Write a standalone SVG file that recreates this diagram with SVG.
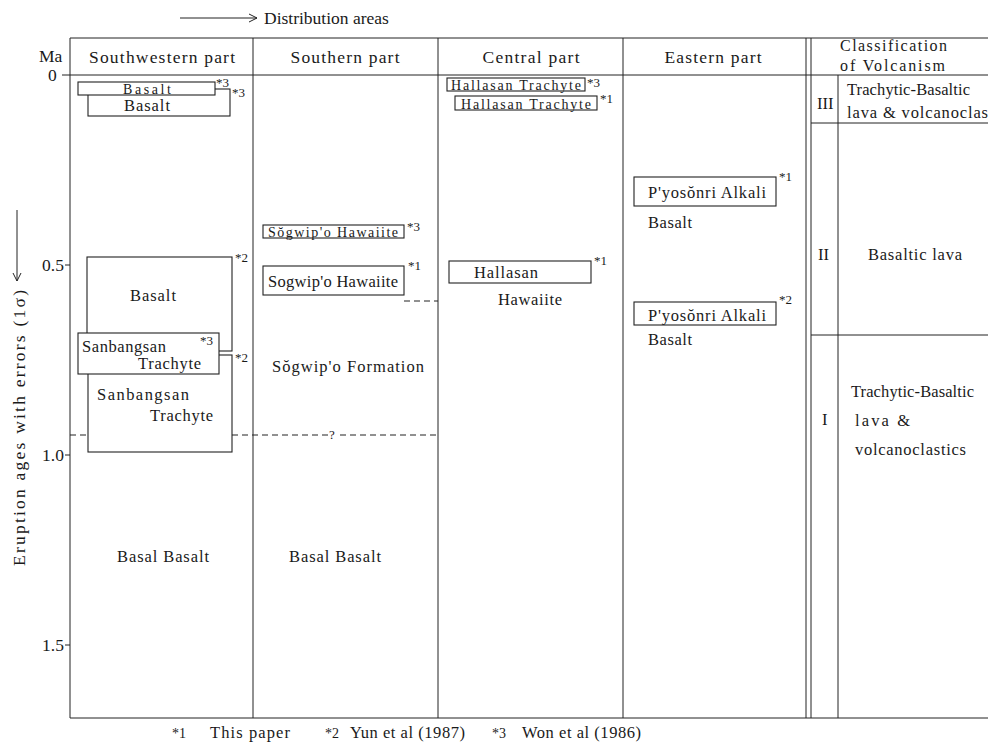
<svg xmlns="http://www.w3.org/2000/svg" width="988" height="742" viewBox="0 0 988 742" font-family="'Liberation Serif', 'Times New Roman', serif">
<style>
text{font-family:"Liberation Serif","Times New Roman",serif;fill:#1a1a1a;font-size:16.5px}
.h{font-size:17.5px}
.c{font-size:16px}
.s{font-size:14px}
.m{font-size:13px}
.ln{stroke:#222;stroke-width:1;fill:none}
.bx{stroke:#222;stroke-width:1.1;fill:#fff}
.dash{stroke:#222;stroke-width:1;fill:none;stroke-dasharray:6,4}
.mid{text-anchor:middle}
</style>
<defs>
<marker id="arr" markerWidth="10" markerHeight="10" refX="9" refY="5" orient="auto" markerUnits="userSpaceOnUse">
<path d="M1,1 L9,5 L1,9" fill="none" stroke="#222" stroke-width="1"/>
</marker>
</defs>
<rect width="988" height="742" fill="#fff"/>

<g id="title">
<line x1="180" y1="18" x2="257" y2="18" class="ln" marker-end="url(#arr)"/>
<text x="264" y="24" class="h">Distribution areas</text>
</g>

<g id="frame">
<line x1="70" y1="38" x2="988" y2="38" class="ln"/>
<line x1="62" y1="75" x2="988" y2="75" class="ln"/>
<line x1="70" y1="718" x2="988" y2="718" class="ln"/>
<line x1="70" y1="38" x2="70" y2="718" class="ln"/>
<line x1="253" y1="38" x2="253" y2="718" class="ln"/>
<line x1="438" y1="38" x2="438" y2="718" class="ln"/>
<line x1="623" y1="38" x2="623" y2="718" class="ln"/>
<line x1="806" y1="38" x2="806" y2="718" class="ln"/>
<line x1="811" y1="38" x2="811" y2="718" class="ln"/>
<line x1="838" y1="75" x2="838" y2="718" class="ln"/>
<line x1="811" y1="123" x2="988" y2="123" class="ln"/>
<line x1="811" y1="335" x2="988" y2="335" class="ln"/>
<line x1="65" y1="265" x2="70" y2="265" class="ln"/>
<line x1="65" y1="455" x2="70" y2="455" class="ln"/>
<line x1="65" y1="645" x2="70" y2="645" class="ln"/>
</g>

<g id="axis">
<text x="39" y="62" class="h">Ma</text>
<text x="48" y="81" class="h">0</text>
<text x="42" y="271" class="h">0.5</text>
<text x="42" y="461" class="h">1.0</text>
<text x="42" y="651" class="h">1.5</text>
<text transform="translate(25,566) rotate(-90)" class="h" textLength="276" lengthAdjust="spacing">Eruption ages with errors (1σ)</text>
<line x1="17" y1="210" x2="17" y2="281" class="ln" marker-end="url(#arr)"/>
</g>

<g id="headers">
<text x="162" y="63" class="h mid" textLength="146" lengthAdjust="spacing">Southwestern part</text>
<text x="345" y="63" class="h mid" textLength="109" lengthAdjust="spacing">Southern part</text>
<text x="531" y="63" class="h mid" textLength="97" lengthAdjust="spacing">Central part</text>
<text x="713" y="63" class="h mid" textLength="97" lengthAdjust="spacing">Eastern part</text>
<text x="840" y="51" class="c" textLength="107" lengthAdjust="spacing">Classification</text>
<text x="840" y="71" class="c" textLength="105" lengthAdjust="spacing">of Volcanism</text>
</g>

<g id="connectors">
<line x1="70" y1="435" x2="88" y2="435" class="dash"/>
<line x1="232" y1="435" x2="328" y2="435" class="dash"/>
<line x1="340" y1="435" x2="438" y2="435" class="dash"/>
<text x="329" y="439" class="m">?</text>
<line x1="404" y1="301" x2="438" y2="301" class="dash"/>
</g>

<g id="sw-basal">
<text x="163" y="562" class="mid" textLength="92" lengthAdjust="spacing">Basal Basalt</text>
</g>

<g id="sw-basalt-2">
<rect x="88" y="89" width="142" height="27" class="bx"/>
<text x="147" y="111" class="mid" textLength="46" lengthAdjust="spacing">Basalt</text>
<text x="232" y="97" class="m">*3</text>
</g>
<g id="sw-basalt-1">
<rect x="78" y="82" width="137" height="13" class="bx"/>
<text x="147" y="94" class="s mid" textLength="48" lengthAdjust="spacing">Basalt</text>
<text x="216" y="87" class="m">*3</text>
</g>

<g id="sw-sanbangsan-2">
<rect x="88" y="355" width="144" height="97" class="bx"/>
<text x="97" y="400" textLength="92" lengthAdjust="spacing">Sanbangsan</text>
<text x="150" y="421" textLength="63" lengthAdjust="spacing">Trachyte</text>
<text x="235" y="362" class="m">*2</text>
</g>
<g id="sw-basalt-big">
<rect x="87" y="257" width="145" height="94" class="bx"/>
<text x="153" y="301" class="mid" textLength="46" lengthAdjust="spacing">Basalt</text>
<text x="235" y="262" class="m">*2</text>
</g>
<g id="sw-sanbangsan-1">
<rect x="78" y="333" width="141" height="41" class="bx"/>
<text x="82" y="352" textLength="84" lengthAdjust="spacing">Sanbangsan</text>
<text x="138" y="369" textLength="63" lengthAdjust="spacing">Trachyte</text>
<text x="200" y="345" class="m">*3</text>
</g>

<g id="s-sogwipo-3">
<rect x="263" y="225" width="141" height="13" class="bx"/>
<text x="333" y="237" class="s mid" textLength="130" lengthAdjust="spacing">Sŏgwip'o Hawaiite</text>
<text x="407" y="231" class="m">*3</text>
</g>
<g id="s-sogwipo-1">
<rect x="263" y="266" width="141" height="29" class="bx"/>
<text x="333" y="287" class="mid" textLength="130" lengthAdjust="spacing">Sogwip'o Hawaiite</text>
<text x="408" y="270" class="m">*1</text>
</g>
<g id="s-formation">
<text x="348" y="372" class="mid" textLength="152" lengthAdjust="spacing">Sŏgwip'o Formation</text>
</g>
<g id="s-basal">
<text x="335" y="562" class="mid" textLength="92" lengthAdjust="spacing">Basal Basalt</text>
</g>

<g id="c-hallasan-3">
<rect x="447" y="78" width="138" height="13" class="bx"/>
<text x="516" y="90" class="s mid" textLength="130" lengthAdjust="spacing">Hallasan Trachyte</text>
<text x="587" y="87" class="m">*3</text>
</g>
<g id="c-hallasan-1">
<rect x="455" y="96" width="142" height="14" class="bx"/>
<text x="526" y="109" class="s mid" textLength="130" lengthAdjust="spacing">Hallasan Trachyte</text>
<text x="600" y="103" class="m">*1</text>
</g>
<g id="c-hallasan-hawaiite">
<rect x="449" y="261" width="142" height="22" class="bx"/>
<text x="506" y="278" class="mid" textLength="64" lengthAdjust="spacing">Hallasan</text>
<text x="530" y="305" class="mid" textLength="64" lengthAdjust="spacing">Hawaiite</text>
<text x="594" y="265" class="m">*1</text>
</g>

<g id="e-pyosonri-1">
<rect x="634" y="177" width="142" height="29" class="bx"/>
<text x="648" y="198" textLength="118" lengthAdjust="spacing">P'yosŏnri Alkali</text>
<text x="648" y="228" textLength="44" lengthAdjust="spacing">Basalt</text>
<text x="779" y="181" class="m">*1</text>
</g>
<g id="e-pyosonri-2">
<rect x="634" y="302" width="142" height="23" class="bx"/>
<text x="648" y="321" textLength="118" lengthAdjust="spacing">P'yosŏnri Alkali</text>
<text x="648" y="345" textLength="44" lengthAdjust="spacing">Basalt</text>
<text x="779" y="304" class="m">*2</text>
</g>

<g id="class-III">
<text x="817" y="109">III</text>
<text x="847" y="95" textLength="123" lengthAdjust="spacing">Trachytic-Basaltic</text>
<text x="847" y="118" textLength="141" lengthAdjust="spacing">lava &amp; volcanoclas</text>
</g>
<g id="class-II">
<text x="818" y="260">II</text>
<text x="868" y="260" textLength="94" lengthAdjust="spacing">Basaltic lava</text>
</g>
<g id="class-I">
<text x="822" y="425">I</text>
<text x="851" y="397" textLength="123" lengthAdjust="spacing">Trachytic-Basaltic</text>
<text x="855" y="426" textLength="55" lengthAdjust="spacing">lava &amp;</text>
<text x="855" y="455" textLength="111" lengthAdjust="spacing">volcanoclastics</text>
</g>

<g id="legend">
<text x="172" y="738" class="s">*1</text>
<text x="210" y="738" textLength="80" lengthAdjust="spacing">This paper</text>
<text x="325" y="738" class="s">*2</text>
<text x="350" y="738" textLength="115" lengthAdjust="spacing">Yun et al (1987)</text>
<text x="492" y="738" class="s">*3</text>
<text x="522" y="738" textLength="119" lengthAdjust="spacing">Won et al (1986)</text>
</g>
</svg>
